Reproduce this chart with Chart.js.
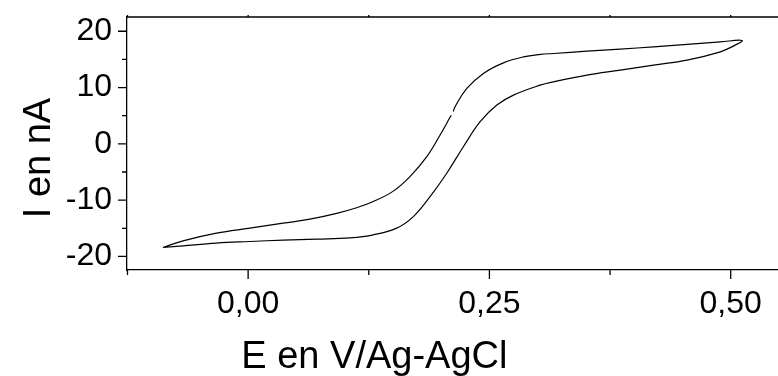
<!DOCTYPE html>
<html>
<head>
<meta charset="utf-8">
<script src="https://cdn.jsdelivr.net/npm/chart.js@4/dist/chart.umd.min.js"></script>
<style>
  body { margin: 0; background: #fff; }
  #wrap { width: 778px; height: 376px; }
</style>
</head>
<body>
<div id="wrap"><canvas id="cv" width="778" height="376"></canvas></div>
<script>
// potential (V vs Ag/AgCl), read along the loop; null current = small break in the trace
const potential = [
    -0.0882, -0.0674, -0.0328, 0.0018, 0.0363, 0.0640, 0.0917, 0.1124, 0.1297, 0.1504,
    0.1677, 0.1851, 0.1989, 0.2092, 0.2104, 0.2115, 0.2126, 0.2144, 0.2266, 0.2438,
    0.2645, 0.2853, 0.3026, 0.3164, 0.3510, 0.3856, 0.4201, 0.4548, 0.4893, 0.5118,
    0.5031, 0.4893, 0.4548, 0.4201, 0.3856, 0.3510, 0.3164, 0.3026, 0.2749, 0.2577,
    0.2404, 0.2230, 0.2058, 0.1885, 0.1712, 0.1539, 0.1297, 0.1055, 0.0710, 0.0363,
    0.0018, -0.0328, -0.0674, -0.0882
];
const current = [
    -18.41, -17.23, -15.86, -14.97, -14.09, -13.38, -12.35, -11.35, -10.25, -8.40,
    -5.82, -2.28, 1.57, 4.71, 5.05, null, 5.75, 6.59, 9.85, 12.51,
    14.39, 15.45, 15.88, 16.05, 16.46, 16.82, 17.23, 17.65, 18.11, 18.36,
    17.40, 16.34, 14.87, 13.98, 13.09, 12.21, 11.02, 10.43, 8.66, 6.89,
    3.93, -0.51, -5.22, -9.37, -12.92, -14.97, -16.16, -16.69, -16.92, -17.10,
    -17.35, -17.63, -18.11, -18.41
];

const xMajor = [0, 0.25, 0.5];
const xMinor = [-0.125, 0.125, 0.375];
const yMajor = [-20, -10, 0, 10, 20];
const yMinor = [-15, -5, 5, 15];

const xTitle = 'E en V/Ag-AgCl';
const yTitle = 'I en nA';

const fontFamily = "'Liberation Sans', Arial, sans-serif";

const frame = {
    id: 'frame',
    afterDraw(chart) {
        const ctx = chart.ctx;
        const a = chart.chartArea;
        const x = chart.scales.x;
        const y = chart.scales.y;
        ctx.save();
        ctx.strokeStyle = '#000';
        ctx.lineWidth = 1.3;
        ctx.beginPath();
        ctx.moveTo(a.left, a.top);
        ctx.lineTo(a.right, a.top);
        xMajor.forEach(v => {
            const px = x.getPixelForValue(v);
            ctx.moveTo(px, a.bottom); ctx.lineTo(px, a.bottom + 9);
            ctx.moveTo(px, a.top); ctx.lineTo(px, a.top - 2);
        });
        xMinor.forEach(v => {
            const px = x.getPixelForValue(v);
            ctx.moveTo(px, a.bottom); ctx.lineTo(px, a.bottom + 5);
            ctx.moveTo(px, a.top); ctx.lineTo(px, a.top - 2);
        });
        yMajor.forEach(v => {
            const py = y.getPixelForValue(v);
            ctx.moveTo(a.left, py); ctx.lineTo(a.left - 9, py);
        });
        yMinor.forEach(v => {
            const py = y.getPixelForValue(v);
            ctx.moveTo(a.left, py); ctx.lineTo(a.left - 5, py);
        });
        ctx.stroke();

        // axis titles
        ctx.fillStyle = '#000';
        ctx.font = '38px ' + fontFamily;
        ctx.textAlign = 'center';
        ctx.textBaseline = 'alphabetic';
        ctx.fillText(xTitle, a.left + 0.38 * (a.right - a.left), 368);
        ctx.translate(50, 158);
        ctx.rotate(-Math.PI / 2);
        ctx.fillText(yTitle, 0, 0);
        ctx.restore();
    }
};

new Chart(document.getElementById('cv'), {
    type: 'line',
    data: {
        datasets: [{
            data: potential.map((e, i) => ({ x: e, y: current[i] })),
            borderColor: '#000',
            borderWidth: 1.2,
            pointRadius: 0,
            tension: 0.4,
            fill: false,
            spanGaps: false
        }]
    },
    options: {
        responsive: false,
        animation: false,
        layout: { padding: { top: 17, right: 0, left: 0, bottom: 0 } },
        plugins: {
            legend: { display: false },
            tooltip: { enabled: false }
        },
        scales: {
            x: {
                type: 'linear',
                min: -0.1255,
                max: 0.549,
                grid: { display: false },
                border: { display: true, color: '#000', width: 1.3 },
                afterBuildTicks: s => { s.ticks = xMajor.map(v => ({ value: v })); },
                afterFit: s => {
                    s.height = 106;
                    s.paddingLeft = 0;
                    s.paddingRight = 0;
                },
                ticks: {
                    padding: 7,
                    color: '#000',
                    maxRotation: 0,
                    font: { family: fontFamily, size: 32 },
                    callback: v => v.toFixed(2).replace('.', ',')
                }
            },
            y: {
                min: -22.41,
                max: 22.53,
                grid: { display: false },
                border: { display: true, color: '#000', width: 1.3 },
                afterBuildTicks: s => { s.ticks = yMajor.map(v => ({ value: v })); },
                afterFit: s => {
                    s.width = 127;
                    s.paddingTop = 0;
                    s.paddingBottom = 0;
                },
                ticks: {
                    padding: 7,
                    color: '#000',
                    font: { family: fontFamily, size: 32 },
                    callback: v => String(v)
                }
            }
        }
    },
    plugins: [frame]
});
</script>
</body>
</html>
